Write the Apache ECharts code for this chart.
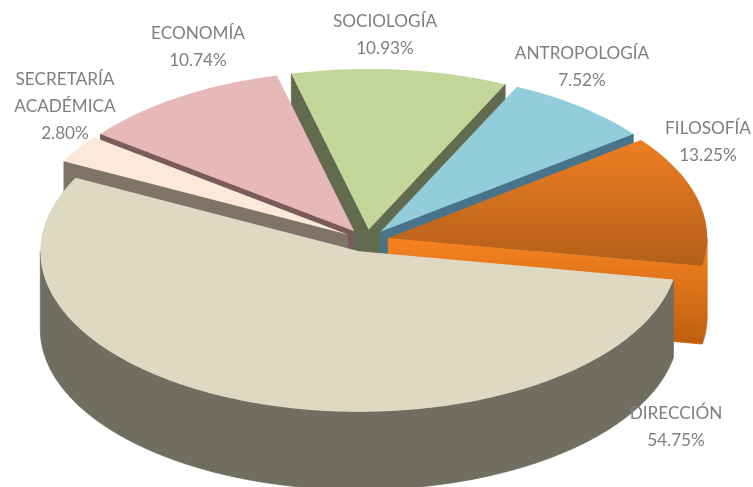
<!DOCTYPE html>
<html>
<head>
<meta charset="utf-8">
<style>
  html, body { margin: 0; padding: 0; background: #fff; }
  #chart { width: 753px; height: 487px; }
</style>
</head>
<body>
<div id="chart"></div>
<script src="https://cdn.jsdelivr.net/npm/echarts@6/dist/echarts.min.js"></script>
<script>
// data, in clockwise order
const categories = ["DIRECCIÓN", "SECRETARÍA\nACADÉMICA", "ECONOMÍA", "SOCIOLOGÍA", "ANTROPOLOGÍA", "FILOSOFÍA"];
const percents = [54.75, 2.8, 10.74, 10.93, 7.52, 13.25];

// styles
const topColors = [
  "#DDD9C3", "#FDE9D9", "#E6B8B7", "#C4D79B", "#92CDDC",
  { type: "linear", x: 0, y: 0, x2: 0, y2: 1, colorStops: [{ offset: 0, color: "#EE7E22" }, { offset: 1, color: "#B25F1A" }] },
];
const wallColors = [
  "#6F6E60", "#807469", "#7A5A5B", "#626B4E", "#47748A",
  // global so the flat side and the rim strip share one gradient
  { type: "linear", global: true, x: 0, y: 240, x2: 0, y2: 346, colorStops: [{ offset: 0, color: "#F58220" }, { offset: 1, color: "#BD5E10" }] },
];
const labelPos = [[676, 426.5], [65, 106.5], [198, 46.5], [385, 35], [582, 67], [708, 142]];
const paintOrder = [3, 4, 2, 1, 5, 0]; // back to front

// fake 3d pie layout
const pie = { cx: 366.5, cy: 240.6, rx: 319, ry: 160.5, depth: 78, explode: 0.07, startAngle: 10.1 };

const total = percents.reduce((a, b) => a + b, 0);
const RAD = Math.PI / 180;

function rimPoints(ox, oy, from, to, dy) {
  const pts = [];
  const steps = Math.max(2, Math.ceil(to - from));
  for (let i = 0; i <= steps; i++) {
    const t = (from + ((to - from) * i) / steps) * RAD;
    pts.push([ox + pie.rx * Math.cos(t), oy + pie.ry * Math.sin(t) + dy]);
  }
  return pts;
}

function topFace(points, fill) {
  return { type: "polygon", shape: { points }, style: { fill, stroke: null } };
}

// stroked with its own fill, otherwise a seam shows between side and rim
function wall(points, fill) {
  return { type: "polygon", shape: { points }, style: { fill, stroke: fill, lineWidth: 0.8 } };
}

// radial side of a slice, only when it looks towards the viewer
function radialWall(ox, oy, angle, fill) {
  const p = [ox + pie.rx * Math.cos(angle * RAD), oy + pie.ry * Math.sin(angle * RAD)];
  return wall([[ox, oy], p, [p[0], p[1] + pie.depth], [ox, oy + pie.depth]], fill);
}

function renderSlice(params, api) {
  const i = api.value(0);
  let before = 0;
  for (let k = 0; k < i; k++) before += percents[k];
  const a0 = pie.startAngle + (before / total) * 360;
  const a1 = a0 + (percents[i] / total) * 360;
  const mid = ((a0 + a1) / 2) * RAD;
  const ox = pie.cx + pie.explode * pie.rx * Math.cos(mid);
  const oy = pie.cy + pie.explode * pie.ry * Math.sin(mid);

  const children = [];
  // start wall faces down when sin(a0 - 90) > 0
  if (Math.sin((a0 - 90) * RAD) > 0) children.push(radialWall(ox, oy, a0, wallColors[i]));
  if (Math.sin((a1 + 90) * RAD) > 0) children.push(radialWall(ox, oy, a1, wallColors[i]));
  [0, 360].forEach((k) => {
    const lo = Math.max(a0, k);
    const hi = Math.min(a1, k + 180);
    if (lo < hi) {
      const upper = rimPoints(ox, oy, lo, hi, 0);
      const lower = rimPoints(ox, oy, lo, hi, pie.depth).reverse();
      children.push(wall(upper.concat(lower), wallColors[i]));
    }
  });
  children.push(topFace([[ox, oy]].concat(rimPoints(ox, oy, a0, a1, 0)), topColors[i]));
  return { type: "group", children };
}

function renderLabel(params, api) {
  const i = api.value(0);
  return {
    type: "text",
    style: {
      x: labelPos[i][0],
      y: labelPos[i][1],
      text: categories[i] + "\n" + percents[i].toFixed(2) + "%",
      align: "center",
      verticalAlign: "middle",
      fill: "#7F7F7F",
      font: '17.2px Lato, "Open Sans", sans-serif',
      lineHeight: 27,
    },
  };
}

const myChart = echarts.init(document.getElementById("chart"));
myChart.setOption({
  animation: false,
  backgroundColor: "#fff",
  series: [
    { type: "custom", coordinateSystem: "none", silent: true, data: paintOrder.map((i) => [i]), renderItem: renderSlice, z: 1 },
    { type: "custom", coordinateSystem: "none", silent: true, data: categories.map((c, i) => [i]), renderItem: renderLabel, z: 2 },
  ],
});
</script>
</body>
</html>
